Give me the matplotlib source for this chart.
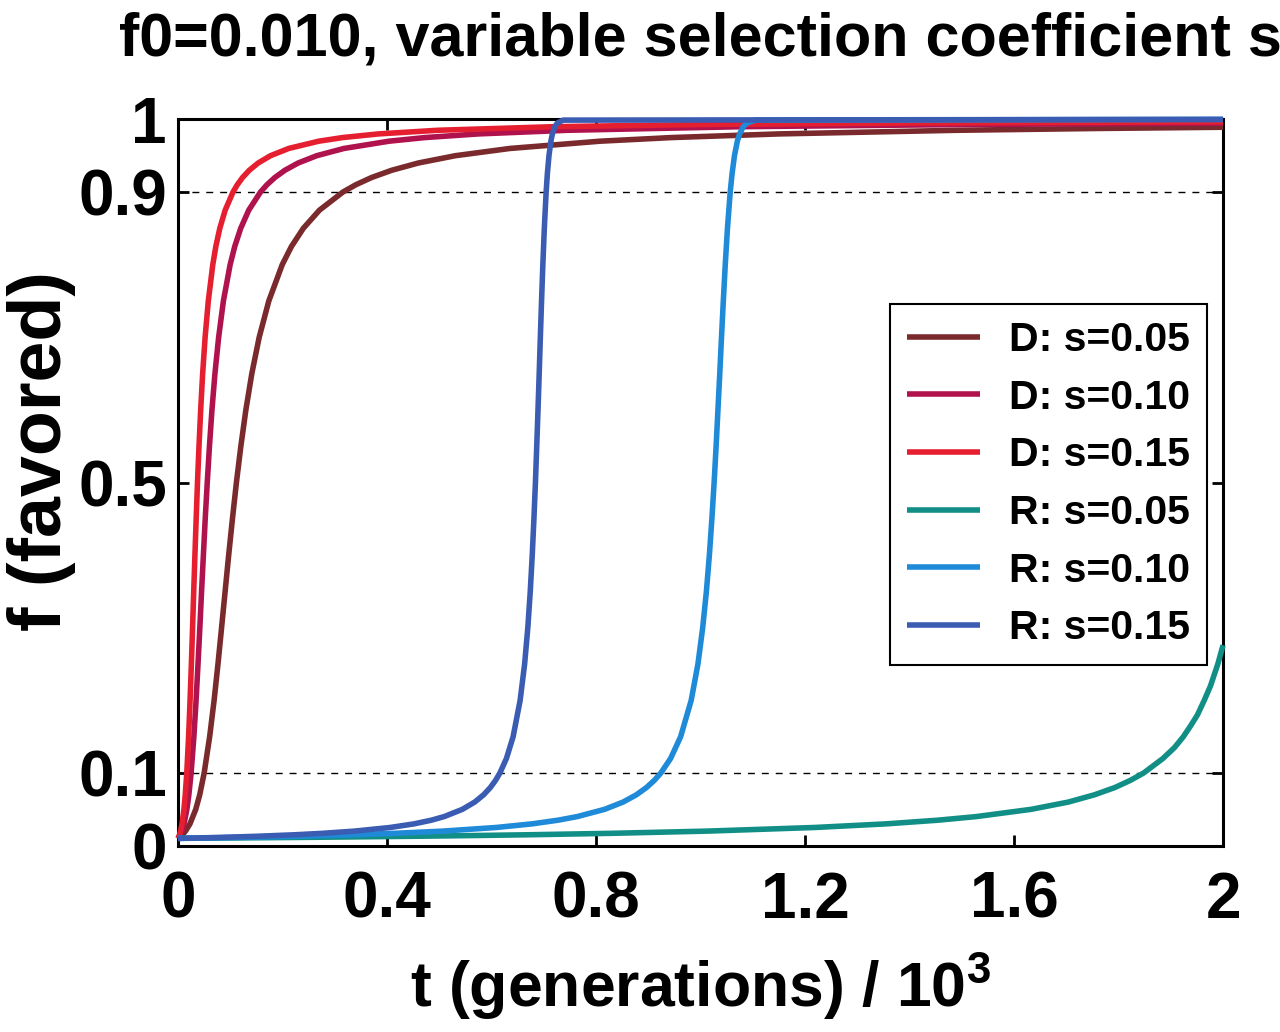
import matplotlib
matplotlib.use("Agg")
import matplotlib.pyplot as plt

plt.rcParams['font.family'] = ['Liberation Sans', 'DejaVu Sans']
plt.rcParams['font.weight'] = 'bold'
plt.rcParams['mathtext.fontset'] = 'custom'
plt.rcParams['mathtext.bf'] = 'Liberation Sans:bold'
plt.rcParams['mathtext.rm'] = 'Liberation Sans:bold'

# ---- data (t in 10^3 generations, f = favored allele frequency) ----
labels = ["D: s=0.05", "D: s=0.10", "D: s=0.15", "R: s=0.05", "R: s=0.10", "R: s=0.15"]
colors = ["#7a2a2c", "#b0124e", "#e51e30", "#118f86", "#1f8ad8", "#3a5cb2"]

f_D = [0.01, 0.015, 0.02, 0.03, 0.05, 0.07, 0.10, 0.15, 0.20, 0.25,
       0.30, 0.35, 0.40, 0.45, 0.50, 0.55, 0.60, 0.65, 0.70, 0.75,
       0.80, 0.825, 0.85, 0.875, 0.90, 0.91, 0.92, 0.93, 0.94, 0.95,
       0.96, 0.97, 0.975, 0.98, 0.985, 0.99]
t_D05 = [0.0, 0.0083, 0.0143, 0.0228, 0.0339, 0.0415, 0.0500, 0.0605, 0.0690, 0.0764,
         0.0833, 0.0901, 0.0969, 0.1041, 0.1117, 0.1202, 0.1298, 0.1412, 0.1553, 0.1737,
         0.1994, 0.2170, 0.2397, 0.2706, 0.3156, 0.3402, 0.3705, 0.4091, 0.4601, 0.5306,
         0.6353, 0.8079, 0.9450, 1.1495, 1.4887, 1.759, 2.0]
f_D05 = f_D[:35] + [0.9875, 0.9892]
t_D10 = [0.0, 0.0042, 0.0071, 0.0114, 0.0169, 0.0207, 0.0250, 0.0303, 0.0345, 0.0382,
         0.0417, 0.0450, 0.0485, 0.0520, 0.0559, 0.0601, 0.0649, 0.0706, 0.0777, 0.0868,
         0.0997, 0.1085, 0.1199, 0.1353, 0.1578, 0.1701, 0.1853, 0.2046, 0.2300, 0.2653,
         0.3176, 0.4039, 0.4725, 0.5748, 0.7444, 1.0818, 1.514, 2.0]
f_D10 = f_D + [0.993, 0.9948]
t_D15 = [0.0, 0.0028, 0.0048, 0.0076, 0.0113, 0.0138, 0.0167, 0.0202, 0.0230, 0.0255,
         0.0278, 0.0300, 0.0323, 0.0347, 0.0372, 0.0401, 0.0433, 0.0471, 0.0518, 0.0579,
         0.0665, 0.0723, 0.0799, 0.0902, 0.1052, 0.1134, 0.1235, 0.1364, 0.1534, 0.1769,
         0.2118, 0.2693, 0.3150, 0.3832, 0.4962, 0.7212, 1.0093, 1.3925, 2.0]
f_D15 = f_D + [0.993, 0.995, 0.9966]

t_R05 = [0.0, 0.096, 0.184, 0.264, 0.337, 0.467, 0.578, 0.675, 0.834, 1.014,
         1.219, 1.356, 1.454, 1.528, 1.633, 1.704, 1.754, 1.793, 1.823, 1.848,
         1.885, 1.907, 1.924, 1.938, 1.951, 1.964, 1.976, 1.990, 2.0]
f_R05 = [0.010, 0.0105, 0.011, 0.0115, 0.012, 0.013, 0.014, 0.015, 0.017, 0.020,
         0.025, 0.030, 0.035, 0.040, 0.050, 0.060, 0.070, 0.080, 0.090, 0.100,
         0.120, 0.135, 0.150, 0.165, 0.180, 0.200, 0.220, 0.250, 0.276]

f_R = [0.010, 0.011, 0.012, 0.013, 0.015, 0.017, 0.020, 0.025, 0.030, 0.035,
       0.040, 0.050, 0.060, 0.070, 0.080, 0.090, 0.10, 0.12, 0.15, 0.20,
       0.25, 0.30, 0.35, 0.40, 0.45, 0.50, 0.55, 0.60, 0.65, 0.70,
       0.75, 0.80, 0.85, 0.90, 0.925, 0.95, 0.97, 0.98, 0.99, 0.995,
       0.999, 1.0]
t_R10 = [0.0, 0.0919, 0.1685, 0.2334, 0.3374, 0.4171, 0.5070, 0.6093, 0.6779, 0.7271,
         0.7642, 0.8165, 0.8518, 0.8772, 0.8965, 0.9117, 0.9240, 0.9427, 0.9619, 0.9821,
         0.9950, 1.0041, 1.0112, 1.0169, 1.0217, 1.0260, 1.0298, 1.0333, 1.0368, 1.0401,
         1.0436, 1.0473, 1.0515, 1.0568, 1.0603, 1.0649, 1.0704, 1.0747, 1.0818, 1.0888,
         1.1050, 2.0]
t_R15 = [0.0, 0.0612, 0.1123, 0.1556, 0.2250, 0.2781, 0.3380, 0.4062, 0.4519, 0.4847,
         0.5094, 0.5443, 0.5678, 0.5848, 0.5977, 0.6078, 0.6160, 0.6285, 0.6413, 0.6547,
         0.6633, 0.6694, 0.6741, 0.6779, 0.6811, 0.6840, 0.6865, 0.6889, 0.6912, 0.6934,
         0.6957, 0.6982, 0.7010, 0.7045, 0.7068, 0.7099, 0.7136, 0.7164, 0.7212, 0.7259,
         0.7367, 2.0]

series = [(t_D05, f_D05), (t_D10, f_D10), (t_D15, f_D15),
          (t_R05, f_R05), (t_R10, f_R), (t_R15, f_R)]

xticks = [0, 0.4, 0.8, 1.2, 1.6, 2]
xticklabels = ["0", "0.4", "0.8", "1.2", "1.6", "2"]
yticks = [0, 0.1, 0.5, 0.9, 1]
yticklabels = ["0", "0.1", "0.5", "0.9", "1"]
ref_levels = [0.1, 0.9]

# ---- figure ----
fig = plt.figure(figsize=(12.8, 10.32), dpi=100)
ax = fig.add_axes([0.1391, 0.1806, 0.8164, 0.7037])

for lev in ref_levels:
    ax.axhline(lev, color="black", lw=1.0, ls=(0, (5, 5)), zorder=1)

for (t, f), c, lab in zip(series, colors, labels):
    ax.plot(t, f, color=c, lw=4.0, label=lab, zorder=3, clip_on=False,
            solid_joinstyle="round", solid_capstyle="butt")

ax.set_xlim(0, 2)
ax.set_ylim(0, 1)
ax.set_xticks(xticks)
ax.set_xticklabels(xticklabels)
ax.set_yticks(yticks)
ax.set_yticklabels(yticklabels)
ax.tick_params(direction="in", length=8, width=2, top=True, right=True,
               labelsize=46)
ax.tick_params(axis="x", pad=18)
ax.tick_params(axis="y", pad=8)
for sp in ax.spines.values():
    sp.set_linewidth(2.2)
    sp.set_zorder(2)

ax.set_xlabel(r"t (generations) / 10$^{\mathbf{3}}$", fontsize=45, fontweight="bold",
              labelpad=14)
ax.set_ylabel("f (favored)", fontsize=53, fontweight="bold")
ax.yaxis.set_label_coords(-0.098, 0.543)
ax.set_title("f0=0.010, variable selection coefficient s", fontsize=44,
             fontweight="bold", pad=46)

leg = ax.legend(loc="upper right", bbox_to_anchor=(0.985, 0.746), fontsize=29.5,
                frameon=True, fancybox=False, edgecolor="black", framealpha=1,
                handlelength=1.8, handletextpad=0.7, labelspacing=0.48,
                borderpad=0.42, borderaxespad=0)
leg.get_frame().set_linewidth(1.5)
for line in leg.get_lines():
    line.set_linewidth(4)

fig.savefig("out.png", dpi=100)
